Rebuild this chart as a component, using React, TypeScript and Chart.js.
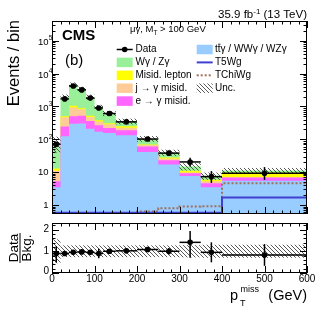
import React, { useEffect, useRef } from "react";
import { Chart, registerables } from "chart.js";

Chart.register(...registerables);

// ---------------- data ----------------
const binEdges = [0, 20, 40, 60, 80, 100, 120, 150, 200, 250, 300, 350, 400, 600];
// stacked backgrounds (bottom -> top)
const ttGammaVV = [3.5, 125, 300, 305, 210, 170, 155, 132, 41, 17, 7.7, 3.5, 5.5];
const eToGamma = [1.8, 120, 200, 215, 150, 100, 65, 58, 19, 6, 1.6, 1.1, 1.4];
const jToGamma = [5.7, 225, 430, 300, 120, 80, 70, 35, 7, 3, 0.5, 0.7, 0.1];
const misidLepton = [2, 30, 120, 60, 40, 30, 20, 25, 3, 2, 1.2, 0.6, 2.8];
const wzGamma = [67, 1450, 3500, 2520, 1430, 570, 310, 105, 35, 11.6, 4, 1.9, 1.4];
const mainUnc = [0.5, 0.18, 0.18, 0.18, 0.18, 0.18, 0.18, 0.2, 0.2, 0.22, 0.25, 0.25, 0.2];
// data
const dataCounts = [71, 1700, 4200, 3200, 1800, 900, 610, 340, 102, 38, 20.5, 7.3, 9.3];
const dataErrLow = [8, 41, 65, 57, 42, 30, 25, 18, 10, 6, 5.5, 2.6, 3.5];
const dataErrHigh = [9, 41, 65, 57, 42, 30, 25, 18, 10, 7, 7, 3.5, 5];
// signals
const t5wg = [0.58, 0.58, 0.58, 0.58, 0.58, 0.58, 0.58, 0.58, 0.58, 0.58, 0.58, 0.58, 1.7];
const tchiwg = [0.05, 0.05, 0.05, 0.05, 0.05, 0.05, 0.05, 0.05, 0.63, 0.8, 0.9, 0.92, 4.6];
// ratio panel
const ratioValues = [0.9, 0.9, 0.95, 0.97, 0.95, 0.9, 1.0, 1.02, 1.08, 1.0, 1.41, 0.95, 0.83];
const ratioErrLow = [0.42, 0.1, 0.08, 0.08, 0.08, 0.22, 0.08, 0.1, 0.12, 0.15, 0.71, 0.46, 0.5];
const ratioErrHigh = [0.33, 0.1, 0.08, 0.08, 0.08, 0.22, 0.08, 0.1, 0.12, 0.15, 0.52, 0.46, 0.5];
const ratioUnc = [0.55, 0.27, 0.27, 0.27, 0.27, 0.27, 0.27, 0.27, 0.27, 0.27, 0.28, 0.3, 0.3];
// ticks
const yExponents = [0, 1, 2, 3, 4, 5];
const xTickLabels = [0, 100, 200, 300, 400, 500, 600];
const ratioTickLabels = [0, 1, 2];
// legend
const legendCol1 = ["Data", "Wγ / Zγ", "Misid. lepton", "j → γ misid.", "e → γ misid."];
const legendCol2 = ["ttγ / WWγ / WZγ", "T5Wg", "TChiWg", "Unc."];

// ---------------- style ----------------
const FONT = '"Liberation Sans", Arial, Helvetica, sans-serif';
const C_BLUE = "#99ccff";
const C_MAG = "#ff66ff";
const C_PEACH = "#ffcc99";
const C_YEL = "#ffff00";
const C_GREEN = "#99f099";
const C_T5 = "#4040d0";
const C_TCHI = "#a0705a";

const RATIO_TOP = 218;

function makeHatch() {
  const c = document.createElement("canvas");
  c.width = 4;
  c.height = 4;
  const g = c.getContext("2d");
  g.fillStyle = "rgba(60,60,60,0.85)";
  for (let i = 0; i < 4; i++) g.fillRect(i, i, 1, 1);
  return g.createPattern(c, "repeat");
}

const stepPts = (vals) =>
  vals.flatMap((v, i) => [
    { x: binEdges[i], y: v },
    { x: binEdges[i + 1], y: v },
  ]);

const centers = binEdges.slice(0, -1).map((e, i) => (e + binEdges[i + 1]) / 2);
const layers = [ttGammaVV, eToGamma, jToGamma, misidLepton, wzGamma];
const cumulative = layers.map((_, k) =>
  centers.map((_, i) => layers.slice(0, k + 1).reduce((s, a) => s + a[i], 0))
);
const totals = cumulative[cumulative.length - 1];

function txt(ctx, s, x, y, size, align = "left", baseline = "alphabetic", bold = false) {
  ctx.font = `${bold ? "bold " : ""}${size}px ${FONT}`;
  ctx.textAlign = align;
  ctx.textBaseline = baseline;
  ctx.fillStyle = "#000";
  ctx.fillText(s, x, y);
  return ctx.measureText(s).width;
}

function seg(ctx, x1, y1, x2, y2) {
  ctx.beginPath();
  ctx.moveTo(x1, y1);
  ctx.lineTo(x2, y2);
  ctx.stroke();
}

function drawXTicks(ctx, a, x) {
  for (let v = 0; v <= 600; v += 20) {
    const px = Math.round(x.getPixelForValue(v)) + 0.5;
    const len = v % 100 === 0 ? 7 : 3.5;
    seg(ctx, px, a.bottom, px, a.bottom - len);
    seg(ctx, px, a.top, px, a.top + len);
  }
}

export default function App() {
  const mainRef = useRef(null);
  const ratioRef = useRef(null);

  useEffect(() => {
    const hatch = makeHatch();

    const fillDs = (vals, color) => ({
      type: "line",
      data: stepPts(vals),
      borderColor: "rgba(0,0,0,0)",
      borderWidth: 0,
      backgroundColor: color,
      fill: "start",
      pointRadius: 0,
      tension: 0,
    });

    const mainPlugin = {
      id: "mainDecor",
      afterDatasetDraw(chart, args) {
        if (args.index !== 1) return;
        const { ctx, chartArea: a, scales } = chart;
        const x = scales.x;
        const y = scales.y;
        ctx.save();
        ctx.beginPath();
        ctx.rect(a.left, a.top, a.right - a.left, a.bottom - a.top);
        ctx.clip();
        ctx.fillStyle = hatch;
        centers.forEach((_, i) => {
          const x1 = x.getPixelForValue(binEdges[i]);
          const x2 = x.getPixelForValue(binEdges[i + 1]);
          const y1 = y.getPixelForValue(totals[i] * (1 + mainUnc[i]));
          const y2 = y.getPixelForValue(totals[i] * (1 - mainUnc[i]));
          ctx.fillRect(x1, y1, x2 - x1, y2 - y1);
        });
        ctx.strokeStyle = "#000";
        ctx.lineWidth = 1.5;
        centers.forEach((c, i) => {
          const x1 = x.getPixelForValue(binEdges[i]);
          const x2 = x.getPixelForValue(binEdges[i + 1]);
          const xc = x.getPixelForValue(c);
          const yv = y.getPixelForValue(dataCounts[i]);
          seg(ctx, x1, yv, x2, yv);
          seg(ctx, xc, y.getPixelForValue(dataCounts[i] - dataErrLow[i]), xc, y.getPixelForValue(dataCounts[i] + dataErrHigh[i]));
        });
        ctx.restore();
      },
      afterDraw(chart) {
        const { ctx, chartArea: a, scales } = chart;
        const x = scales.x;
        const y = scales.y;
        ctx.save();
        ctx.strokeStyle = "#000";
        ctx.lineWidth = 1;
        ctx.strokeRect(a.left + 0.5, a.top + 0.5, a.right - a.left - 1, a.bottom - a.top - 1);
        // y ticks (log)
        for (let k = -1; k <= 5; k++) {
          for (let m = 1; m <= 9; m++) {
            const v = m * Math.pow(10, k);
            if (v < y.min || v > y.max) continue;
            const py = Math.round(y.getPixelForValue(v)) + 0.5;
            const len = m === 1 ? 7 : 3.5;
            seg(ctx, a.left, py, a.left + len, py);
            seg(ctx, a.right, py, a.right - len, py);
          }
        }
        drawXTicks(ctx, a, x);
        // y labels
        const lx = a.left - 3.5;
        yExponents.forEach((k) => {
          const py = y.getPixelForValue(Math.pow(10, k));
          if (k === 0) txt(ctx, "1", lx, py, 9.5, "right", "middle");
          else if (k === 1) txt(ctx, "10", lx, py, 9.5, "right", "middle");
          else {
            txt(ctx, "10", lx, py + 1.5, 9.5, "right", "middle");
            txt(ctx, String(k), lx + 0.3, py - 2.5, 6.5, "left", "middle");
          }
        });
        // y title
        ctx.save();
        ctx.translate(18.5, 20);
        ctx.rotate(-Math.PI / 2);
        txt(ctx, "Events / bin", 0, 0, 16.5, "right", "alphabetic");
        ctx.restore();
        // lumi
        {
          ctx.font = `11.5px ${FONT}`;
          const w1 = ctx.measureText("35.9 fb").width;
          ctx.font = `8px ${FONT}`;
          const w2 = ctx.measureText("-1").width;
          ctx.font = `11.5px ${FONT}`;
          const w3 = ctx.measureText(" (13 TeV)").width;
          let sx = a.right - (w1 + w2 + w3);
          txt(ctx, "35.9 fb", sx, 18, 11.5);
          txt(ctx, "-1", sx + w1, 13.5, 8);
          txt(ctx, " (13 TeV)", sx + w1 + w2, 18, 11.5);
        }
        // CMS and (b)
        txt(ctx, "CMS", 62, 40, 15, "left", "alphabetic", true);
        txt(ctx, "(b)", 65, 65, 15);
        // selection label
        {
          const w = txt(ctx, "μγ, M", 130, 31.8, 9.5);
          const w2 = txt(ctx, "T", 130 + w, 34.5, 6.5);
          txt(ctx, " > 100 GeV", 130 + w + w2, 31.8, 9.5);
        }
        // legend
        const rowY = (i) => 49.5 + 12.9 * i;
        const c1x = 116.7, c2x = 196.7, bw = 16, bh = 9.5;
        // data symbol
        {
          const yy = rowY(0);
          ctx.lineWidth = 1.5;
          seg(ctx, c1x, yy, c1x + bw, yy);
          ctx.fillStyle = "#000";
          ctx.beginPath();
          ctx.arc(c1x + bw / 2, yy, 2.8, 0, Math.PI * 2);
          ctx.fill();
        }
        [C_GREEN, C_YEL, C_PEACH, C_MAG].forEach((col, i) => {
          ctx.fillStyle = col;
          ctx.fillRect(c1x, rowY(i + 1) - bh / 2, bw, bh);
        });
        legendCol1.forEach((s, i) => txt(ctx, s, 135.5, rowY(i), 10, "left", "middle"));
        ctx.fillStyle = C_BLUE;
        ctx.fillRect(c2x, rowY(0) - bh / 2, bw, bh);
        ctx.lineWidth = 2;
        ctx.strokeStyle = C_T5;
        seg(ctx, c2x, rowY(1), c2x + bw, rowY(1));
        ctx.strokeStyle = C_TCHI;
        ctx.setLineDash([2, 2]);
        seg(ctx, c2x, rowY(2), c2x + bw, rowY(2));
        ctx.setLineDash([]);
        ctx.fillStyle = hatch;
        ctx.fillRect(c2x, rowY(3) - bh / 2, bw, bh);
        legendCol2.forEach((s, i) => txt(ctx, s, 215, rowY(i), 10, "left", "middle"));
        // bar over second t of "ttγ"
        {
          ctx.font = `10px ${FONT}`;
          const tw = ctx.measureText("t").width;
          ctx.strokeStyle = "#000";
          ctx.lineWidth = 0.8;
          seg(ctx, 215 + tw + 0.3, rowY(0) - 5.3, 215 + 2 * tw, rowY(0) - 5.3);
        }
        ctx.restore();
      },
    };

    const c1 = new Chart(mainRef.current, {
      type: "line",
      data: {
        datasets: [
          {
            type: "scatter",
            data: centers.map((c, i) => ({ x: c, y: dataCounts[i] })),
            pointRadius: 2.8,
            pointBackgroundColor: "#000",
            pointBorderColor: "#000",
            pointBorderWidth: 0,
          },
          {
            type: "line",
            data: stepPts(t5wg),
            borderColor: C_T5,
            borderWidth: 2,
            fill: false,
            pointRadius: 0,
          },
          {
            type: "line",
            data: stepPts(tchiwg),
            borderColor: C_TCHI,
            borderWidth: 2,
            borderDash: [2, 2],
            fill: false,
            pointRadius: 0,
          },
          fillDs(cumulative[0], C_BLUE),
          fillDs(cumulative[1], C_MAG),
          fillDs(cumulative[2], C_PEACH),
          fillDs(cumulative[3], C_YEL),
          fillDs(cumulative[4], C_GREEN),
        ],
      },
      options: {
        animation: false,
        responsive: false,
        maintainAspectRatio: false,
        events: [],
        layout: { padding: { left: 52, right: 17, top: 21, bottom: 3 } },
        scales: {
          x: { type: "linear", min: 0, max: 600, display: false },
          y: { type: "logarithmic", min: 0.533, max: 4.0e5, display: false },
        },
        plugins: { legend: { display: false }, tooltip: { enabled: false } },
      },
      plugins: [mainPlugin],
    });

    const ratioPlugin = {
      id: "ratioDecor",
      beforeDatasetsDraw(chart) {
        const { ctx, chartArea: a, scales } = chart;
        const x = scales.x;
        const y = scales.y;
        ctx.save();
        ctx.beginPath();
        ctx.rect(a.left, a.top, a.right - a.left, a.bottom - a.top);
        ctx.clip();
        ctx.fillStyle = hatch;
        centers.forEach((_, i) => {
          const x1 = x.getPixelForValue(binEdges[i]);
          const x2 = x.getPixelForValue(binEdges[i + 1]);
          const y1 = y.getPixelForValue(1 + ratioUnc[i]);
          const y2 = y.getPixelForValue(1 - ratioUnc[i]);
          ctx.fillRect(x1, y1, x2 - x1, y2 - y1);
        });
        ctx.strokeStyle = "#000";
        ctx.lineWidth = 1.5;
        centers.forEach((c, i) => {
          const x1 = x.getPixelForValue(binEdges[i]);
          const x2 = x.getPixelForValue(binEdges[i + 1]);
          const xc = x.getPixelForValue(c);
          const yv = y.getPixelForValue(ratioValues[i]);
          seg(ctx, x1, yv, x2, yv);
          seg(ctx, xc, y.getPixelForValue(ratioValues[i] - ratioErrLow[i]), xc, y.getPixelForValue(ratioValues[i] + ratioErrHigh[i]));
        });
        ctx.restore();
      },
      afterDraw(chart) {
        const { ctx, chartArea: a, scales } = chart;
        const x = scales.x;
        const y = scales.y;
        const oy = RATIO_TOP;
        ctx.save();
        ctx.strokeStyle = "#000";
        ctx.lineWidth = 1;
        ctx.strokeRect(a.left + 0.5, a.top + 0.5, a.right - a.left - 1, a.bottom - a.top - 1);
        for (let v = 0; v <= 2.3001; v += 0.2) {
          const py = Math.round(y.getPixelForValue(v)) + 0.5;
          const major = Math.abs(v - Math.round(v)) < 1e-6;
          const len = major ? 7 : 3.5;
          seg(ctx, a.left, py, a.left + len, py);
          seg(ctx, a.right, py, a.right - len, py);
        }
        drawXTicks(ctx, a, x);
        ratioTickLabels.forEach((v) => {
          const py = y.getPixelForValue(v) - (v === 0 ? 2 : 0);
          txt(ctx, String(v), a.left - 3, py, 10, "right", "middle");
        });
        xTickLabels.forEach((v) => {
          txt(ctx, String(v), x.getPixelForValue(v), 282 - oy, 10, "center", "alphabetic");
        });
        // x title
        txt(ctx, "p", 230, 300 - oy, 14.5);
        txt(ctx, "miss", 240.5, 291.5 - oy, 9);
        txt(ctx, "T", 240, 306 - oy, 9);
        txt(ctx, "(GeV)", a.right, 300 - oy, 14.5, "right");
        // y title (fraction)
        ctx.save();
        ctx.translate(20, 248 - oy);
        ctx.rotate(-Math.PI / 2);
        txt(ctx, "Data", 0, -2, 13.5, "center", "alphabetic");
        txt(ctx, "Bkg.", 0, 10.7, 13.5, "center", "alphabetic");
        ctx.lineWidth = 1;
        seg(ctx, -15, 0, 15, 0);
        ctx.restore();
        ctx.restore();
      },
    };

    const c2 = new Chart(ratioRef.current, {
      type: "scatter",
      data: {
        datasets: [
          {
            data: centers.map((c, i) => ({ x: c, y: ratioValues[i] })),
            pointRadius: 2.8,
            pointBackgroundColor: "#000",
            pointBorderColor: "#000",
            pointBorderWidth: 0,
          },
        ],
      },
      options: {
        animation: false,
        responsive: false,
        maintainAspectRatio: false,
        events: [],
        layout: { padding: { left: 52, right: 17, top: 5, bottom: 38 } },
        scales: {
          x: { type: "linear", min: 0, max: 600, display: false },
          y: { type: "linear", min: 0, max: 2.3, display: false },
        },
        plugins: { legend: { display: false }, tooltip: { enabled: false } },
      },
      plugins: [ratioPlugin],
    });

    return () => {
      c1.destroy();
      c2.destroy();
    };
  }, []);

  return (
    <div style={{ position: "fixed", left: 0, top: 0, width: 324, height: 311, background: "#fff" }}>
      <canvas
        ref={mainRef}
        width={324}
        height={218}
        style={{ position: "absolute", left: 0, top: 0, width: 324, height: 218 }}
      />
      <canvas
        ref={ratioRef}
        width={324}
        height={93}
        style={{ position: "absolute", left: 0, top: RATIO_TOP, width: 324, height: 93 }}
      />
    </div>
  );
}
